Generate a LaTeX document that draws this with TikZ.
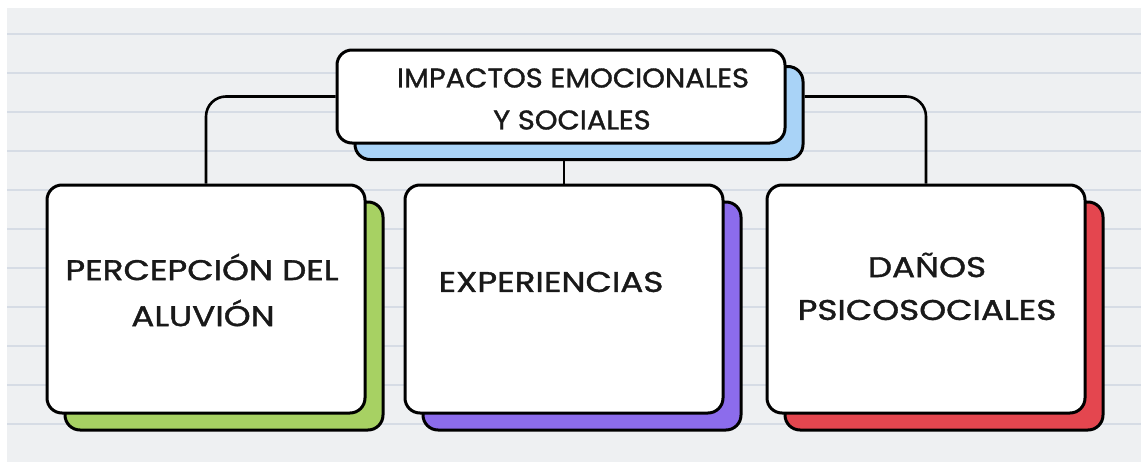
\documentclass[tikz,border=0pt]{standalone}
\usepackage{fontspec}
\setmainfont{Poppins}[FakeBold=1.2]
\usetikzlibrary{calc}
\definecolor{paper}{HTML}{EEF0F2}
\definecolor{rule}{HTML}{D6DCE5}
\definecolor{cblue}{HTML}{A9D3F7}
\definecolor{cgreen}{HTML}{A7D163}
\definecolor{cpurple}{HTML}{8C6CEC}
\definecolor{cred}{HTML}{E4464F}
\newcommand{\wide}[1]{\scalebox{1.2}[1]{#1}}
\newcommand{\widetop}[1]{\scalebox{1.07}[1]{#1}}
\tikzset{
  card/.style={draw=black, line width=3pt, rounded corners=15pt, fill=white, inner sep=0pt},
  shade/.style={draw=black, line width=3pt, rounded corners=15pt, inner sep=0pt},
  conn/.style={draw=black, line width=2.6pt, rounded corners=20pt},
  lbl/.style={font=\fontsize{28.5}{30}\selectfont, inner sep=0pt, text=black!90},
  lbltop/.style={font=\fontsize{27}{30}\selectfont, inner sep=0pt, text=black!90},
}
\begin{document}
\begin{tikzpicture}[x=1pt,y=-1pt]
\useasboundingbox (0,0) rectangle (1141,463);
\fill[white] (0,0) rectangle (1141,463);
\fill[paper] (7,8) rectangle (1141,462);
\foreach \yy in {34,73,112,151,190,229,268,307,346,385,424}
  \draw[rule, line width=1.6pt] (7,\yy) -- (1141,\yy);

% shadows
\node[shade, fill=cblue, minimum width=448pt, minimum height=93pt] (topsh) at (579,113) {};
\node[shade, fill=cgreen, minimum width=318pt, minimum height=228pt] (sh1) at (224,316) {};
\node[shade, fill=cpurple, minimum width=318pt, minimum height=228pt] (sh2) at (582,316) {};
\node[shade, fill=cred, minimum width=318pt, minimum height=228pt] (sh3) at (944,316) {};

% cards
\node[card, minimum width=448pt, minimum height=93pt] (top) at (561,96.5) {};
\node[card, minimum width=318pt, minimum height=228pt] (b1) at (206,299) {};
\node[card, minimum width=318pt, minimum height=228pt] (b2) at (564,299) {};
\node[card, minimum width=318pt, minimum height=228pt] (b3) at (926,299) {};

% connectors
\draw[conn] (top.west) -| (b1.north);
\draw[conn] (topsh.east |- top.west) -| (b3.north);
\draw[conn] (b2.north |- topsh.south) -- (b2.north);

% texts
\node[lbltop] (t1) at (573,78) {\widetop{IMPACTOS EMOCIONALES}};
\node[lbltop] (t2) at (572,120) {\widetop{Y SOCIALES}};
\node[lbl] (p1) at (202,267) {\wide{PERCEPCIÓN DEL}};
\node[lbl] (p2) at (203,313) {\wide{ALUVIÓN}};
\node[lbl] (e1) at (551,282) {\wide{EXPERIENCIAS}};
\node[lbl] (d1) at (927,265) {\wide{DAÑOS}};
\node[lbl] (d2) at (927,310) {\wide{PSICOSOCIALES}};
\end{tikzpicture}
\end{document}
